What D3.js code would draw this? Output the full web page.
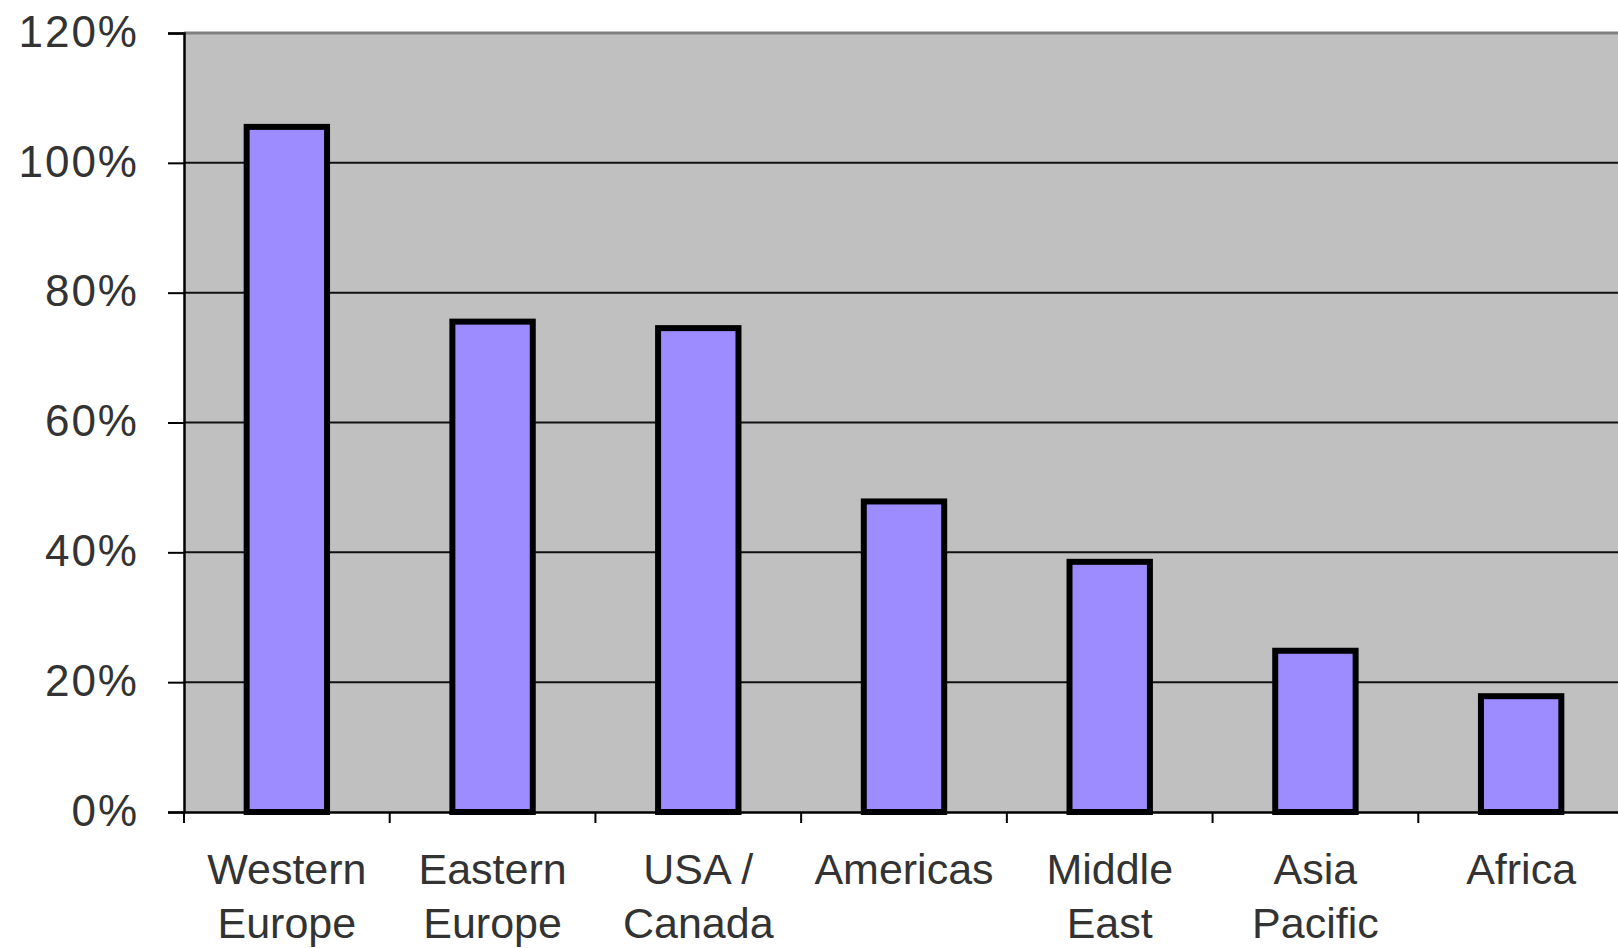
<!DOCTYPE html>
<html lang="en">
<head>
    <meta charset="UTF-8">
    <title>Regional bar chart</title>
    <script src="https://d3js.org/d3.v7.min.js"></script>
    <style>
        body { margin: 0; background: #fff; }
        svg { display: block; font-family: "Liberation Sans", Arial, sans-serif; }
    </style>
</head>
<body>
    <div id="chart"></div>

    <script>
        // data
        const regions = ["Western Europe", "Eastern Europe", "USA / Canada", "Americas", "Middle East", "Asia Pacific", "Africa"];
        const regionLines = [["Western", "Europe"], ["Eastern", "Europe"], ["USA /", "Canada"], ["Americas"], ["Middle", "East"], ["Asia", "Pacific"], ["Africa"]];
        const shares = [106, 76, 75, 48.3, 39, 25.3, 18.3];
        const yTicks = [0, 20, 40, 60, 80, 100, 120];

        const W = 1618, H = 948;
        const plotLeft = 184, plotRight = 1624, plotTop = 33, plotBottom = 812;

        const svg = d3.select("#chart")
                      .append("svg")
                      .attr("width", W)
                      .attr("height", H);

        const x = d3.scaleBand()
                    .domain(regions)
                    .range([plotLeft, plotRight])
                    .paddingInner(0.58)
                    .paddingOuter(0.29);

        const y = d3.scaleLinear()
                    .domain([0, 120])
                    .range([plotBottom, plotTop]);

        // plot background
        svg.append("rect")
           .attr("x", plotLeft)
           .attr("y", plotTop)
           .attr("width", plotRight - plotLeft)
           .attr("height", plotBottom - plotTop)
           .attr("fill", "#c0c0c0");

        svg.append("line")
           .attr("x1", plotLeft).attr("x2", plotRight)
           .attr("y1", plotTop).attr("y2", plotTop)
           .attr("stroke", "#808080")
           .attr("stroke-width", 3);

        // gridlines
        svg.append("g")
           .selectAll("line")
           .data(yTicks.filter(d => d > 0 && d < 120))
           .join("line")
           .attr("x1", plotLeft).attr("x2", plotRight)
           .attr("y1", d => y(d)).attr("y2", d => y(d))
           .attr("stroke", "#111")
           .attr("stroke-width", 2);

        // bars
        svg.append("g")
           .selectAll("rect")
           .data(shares)
           .join("rect")
           .attr("x", (d, i) => x(regions[i]) + 3)
           .attr("y", d => y(d) + 3)
           .attr("width", x.bandwidth() - 6)
           .attr("height", d => plotBottom - y(d) - 3)
           .attr("fill", "#9d8cff")
           .attr("stroke", "#000")
           .attr("stroke-width", 6);

        // y axis
        const yAxis = svg.append("g")
                         .attr("transform", `translate(${plotLeft},0)`)
                         .call(d3.axisLeft(y).tickValues(yTicks).tickSize(16).tickFormat(d => d + "%"));
        yAxis.select(".domain").attr("stroke", "#000").attr("stroke-width", 2.5);
        yAxis.selectAll(".tick line").attr("stroke", "#000").attr("stroke-width", 2);
        yAxis.selectAll(".tick text")
             .attr("x", -45)
             .attr("dy", "0.3em")
             .attr("fill", "#333")
             .attr("font-size", 44)
             .attr("letter-spacing", "2px");

        // x axis
        const xAxis = svg.append("g")
                         .attr("transform", `translate(0,${plotBottom})`)
                         .call(d3.axisBottom(x).tickSize(0).tickFormat(""));
        xAxis.select(".domain").attr("stroke", "#000").attr("stroke-width", 2.5);

        // category boundary ticks
        const gap = (x.step() - x.bandwidth()) / 2;
        svg.append("g")
           .selectAll("line")
           .data(regions)
           .join("line")
           .attr("x1", d => x(d) - gap)
           .attr("x2", d => x(d) - gap)
           .attr("y1", plotBottom)
           .attr("y2", plotBottom + 11)
           .attr("stroke", "#000")
           .attr("stroke-width", 2);

        const labels = svg.append("g")
                          .attr("fill", "#333")
                          .attr("font-size", 43)
                          .attr("text-anchor", "middle");
        regions.forEach((r, i) => {
            regionLines[i].forEach((line, j) => {
                labels.append("text")
                      .attr("x", x(r) + x.bandwidth() / 2)
                      .attr("y", 884 + j * 54)
                      .text(line);
            });
        });
    </script>
</body>
</html>
